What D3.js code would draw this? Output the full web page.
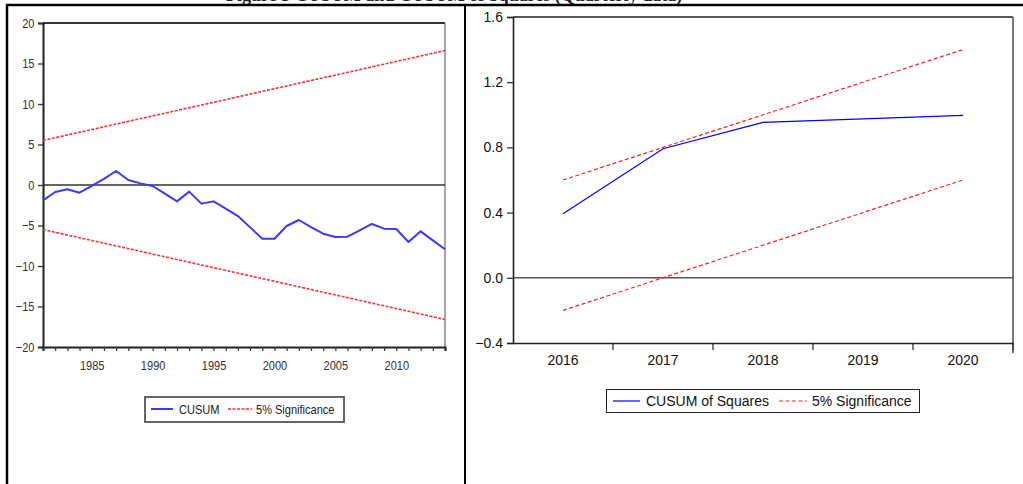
<!DOCTYPE html>
<html>
<head>
<meta charset="utf-8">
<script src="https://cdn.jsdelivr.net/npm/d3@7/dist/d3.min.js"></script>
<style>
  html, body { margin: 0; padding: 0; background: #fff; }
  svg { display: block; }
</style>
</head>
<body>
<svg id="fig" width="1023" height="484"></svg>
<script>
// ---- CUSUM test (left panel) ----
const cusumYears = d3.range(1981, 2015);
const cusumValues = [
  -1.9, -0.86, -0.53, -0.95, -0.1, 0.75, 1.73, 0.62, 0.2, -0.12,
  -1.07, -2.02, -0.82, -2.3, -2.02, -2.92, -3.83, -5.23, -6.63, -6.63,
  -5.06, -4.32, -5.19, -6.01, -6.42, -6.38, -5.6, -4.81, -5.39, -5.43,
  -7.04, -5.72, -6.83, -7.94
];
const cusumBandYears = [1981, 2014];
const cusumUpper = [5.5, 16.6];
const cusumLower = [-5.5, -16.6];
const cusumYTicks = [20, 15, 10, 5, 0, -5, -10, -15, -20];
const cusumXTicks = [1985, 1990, 1995, 2000, 2005, 2010];

// ---- CUSUM of squares test (right panel) ----
const sqYears = ["2016", "2017", "2018", "2019", "2020"];
const sqValues = [0.393, 0.792, 0.953, 0.975, 0.996];
const sqUpper = [0.6, 0.8, 1.0, 1.2, 1.4];
const sqLower = [-0.2, 0.0, 0.2, 0.4, 0.6];
const sqYTicks = [1.6, 1.2, 0.8, 0.4, 0.0, -0.4];

const svg = d3.select("#fig");

// caption line above the table (its upper part runs past the page top)
svg.append("text")
  .attr("x", 226).attr("y", 0.8)
  .attr("font-family", "Liberation Serif, serif")
  .attr("font-weight", "bold")
  .attr("font-size", 18)
  .attr("fill", "#222")
  .text("Figure 3 CUSUM and CUSUM of Squares (Quarterly data)");

// outer table frame
svg.append("line").attr("x1", 6).attr("x2", 1023).attr("y1", 5).attr("y2", 5)
  .attr("stroke", "#000").attr("stroke-width", 2.5);
svg.append("line").attr("x1", 7).attr("x2", 7).attr("y1", 4).attr("y2", 484)
  .attr("stroke", "#000").attr("stroke-width", 2.5);
svg.append("line").attr("x1", 465).attr("x2", 465).attr("y1", 5).attr("y2", 484)
  .attr("stroke", "#000").attr("stroke-width", 2);

// ================= Left panel =================
const L = { left: 43, right: 445, top: 23, bottom: 347 };
const sansL = "Liberation Sans, Arial, sans-serif";
const squeeze = "scale(0.85,1)";   // narrow lettering of this panel

const xL = d3.scaleLinear().domain([1981, 2014]).range([L.left, L.right]);
const yL = d3.scaleLinear().domain([-20, 20]).range([L.bottom, L.top]);

const gL = svg.append("g");

// plot frame: heavy top, light right
gL.append("line").attr("x1", L.left).attr("x2", L.right).attr("y1", L.top).attr("y2", L.top)
  .attr("stroke", "#333").attr("stroke-width", 2.2);
gL.append("line").attr("x1", L.right).attr("x2", L.right).attr("y1", L.top).attr("y2", L.bottom)
  .attr("stroke", "#777").attr("stroke-width", 1.3);

// zero reference line
gL.append("line").attr("x1", L.left).attr("x2", L.right).attr("y1", yL(0)).attr("y2", yL(0))
  .attr("stroke", "#333").attr("stroke-width", 1.6);

// y axis
const axL = gL.append("g").attr("transform", `translate(${L.left},0)`)
  .call(d3.axisLeft(yL).tickValues(cusumYTicks).tickSize(5).tickPadding(5).tickFormat(d3.format("d")));
axL.select(".domain").attr("stroke", "#222").attr("stroke-width", 2);
axL.selectAll(".tick line").attr("stroke", "#333").attr("stroke-width", 1.3);
axL.selectAll(".tick text").attr("font-family", sansL).attr("font-size", 13).attr("fill", "#333")
  .attr("transform", squeeze);

// x axis: yearly ticks, labels every five years
const axB = gL.append("g").attr("transform", `translate(0,${L.bottom})`)
  .call(d3.axisBottom(xL).tickValues(cusumYears).tickSize(4).tickPadding(10)
    .tickFormat(d => cusumXTicks.includes(d) ? String(d) : ""));
axB.select(".domain").attr("stroke", "#222").attr("stroke-width", 2.2);
axB.selectAll(".tick line").attr("stroke", "#333").attr("stroke-width", 1.2);
axB.selectAll(".tick text").attr("font-family", sansL).attr("font-size", 13).attr("fill", "#333")
  .attr("transform", squeeze);

// significance bands
const lineL = d3.line().x(d => xL(d[0])).y(d => yL(d[1]));
[cusumUpper, cusumLower].forEach(b => {
  gL.append("path")
    .datum(cusumBandYears.map((yr, i) => [yr, b[i]]))
    .attr("d", lineL)
    .attr("fill", "none").attr("stroke", "#ff3030").attr("stroke-width", 1.6)
    .attr("stroke-dasharray", "3,1.5");
});

// CUSUM path
gL.append("path")
  .datum(cusumYears.map((yr, i) => [yr, cusumValues[i]]))
  .attr("d", lineL)
  .attr("fill", "none").attr("stroke", "#3a3aff").attr("stroke-width", 2)
  .attr("stroke-linejoin", "round");

// legend
const lgL = gL.append("g");
lgL.append("rect").attr("x", 145).attr("y", 397).attr("width", 199).attr("height", 25)
  .attr("fill", "#fff").attr("stroke", "#555").attr("stroke-width", 1.8);
lgL.append("line").attr("x1", 151).attr("x2", 173).attr("y1", 409).attr("y2", 409)
  .attr("stroke", "#3a3aff").attr("stroke-width", 2);
lgL.append("text").attr("transform", "translate(179,414) " + squeeze)
  .attr("font-family", sansL).attr("font-size", 13).attr("fill", "#222").text("CUSUM");
lgL.append("line").attr("x1", 228).attr("x2", 252).attr("y1", 409).attr("y2", 409)
  .attr("stroke", "#ff3030").attr("stroke-width", 1.6).attr("stroke-dasharray", "3,1.5");
lgL.append("text").attr("transform", "translate(256,414) " + squeeze)
  .attr("font-family", sansL).attr("font-size", 13).attr("fill", "#222").text("5% Significance");

// ================= Right panel =================
const R = { left: 513, right: 1013, top: 17, bottom: 343 };
const sans = "Liberation Sans, Arial, sans-serif";

const xR = d3.scaleBand().domain(sqYears).range([R.left, R.right]).padding(0);
const yR = d3.scaleLinear().domain([-0.4, 1.6]).range([R.bottom, R.top]);
const cx = d => xR(d) + xR.bandwidth() / 2;

const gR = svg.append("g");

// frame (top and right)
gR.append("line").attr("x1", R.left).attr("x2", R.right).attr("y1", R.top).attr("y2", R.top)
  .attr("stroke", "#222").attr("stroke-width", 1.6);
gR.append("line").attr("x1", R.right).attr("x2", R.right).attr("y1", R.top).attr("y2", R.bottom + 10)
  .attr("stroke", "#555").attr("stroke-width", 1.6);

// zero line
gR.append("line").attr("x1", R.left).attr("x2", R.right).attr("y1", yR(0)).attr("y2", yR(0))
  .attr("stroke", "#555").attr("stroke-width", 1.5);

// y axis
const ayR = gR.append("g").attr("transform", `translate(${R.left},0)`)
  .call(d3.axisLeft(yR).tickValues(sqYTicks).tickSize(6).tickPadding(4).tickFormat(d3.format(".1f")));
ayR.select(".domain").attr("stroke", "#222").attr("stroke-width", 1.6);
ayR.selectAll(".tick line").attr("stroke", "#222").attr("stroke-width", 1.2);
ayR.selectAll(".tick text").attr("font-family", sans).attr("font-size", 14).attr("fill", "#111");

// x axis: labels centred in each period, ticks on period boundaries
const axR = gR.append("g").attr("transform", `translate(0,${R.bottom})`)
  .call(d3.axisBottom(xR).tickSize(0).tickPadding(12));
axR.select(".domain").attr("stroke", "#222").attr("stroke-width", 1.6);
axR.selectAll(".tick text").attr("font-family", sans).attr("font-size", 14).attr("fill", "#111");
gR.selectAll("line.bound")
  .data(sqYears.slice(1).map(d => xR(d)).concat([R.right]))
  .join("line").attr("class", "bound")
  .attr("x1", d => d).attr("x2", d => d)
  .attr("y1", R.bottom).attr("y2", R.bottom + 7)
  .attr("stroke", "#222").attr("stroke-width", 1.2);

// bands and statistic
const lineR = d3.line().x(d => cx(d[0])).y(d => yR(d[1]));
[sqUpper, sqLower].forEach(b => {
  gR.append("path")
    .datum(sqYears.map((yr, i) => [yr, b[i]]))
    .attr("d", lineR)
    .attr("fill", "none").attr("stroke", "#ff2020").attr("stroke-width", 1.2)
    .attr("stroke-dasharray", "4,2.5");
});
gR.append("path")
  .datum(sqYears.map((yr, i) => [yr, sqValues[i]]))
  .attr("d", lineR)
  .attr("fill", "none").attr("stroke", "#0000ff").attr("stroke-width", 1.2);

// legend
const lgR = gR.append("g");
lgR.append("rect").attr("x", 606.5).attr("y", 389.5).attr("width", 313).attr("height", 23)
  .attr("fill", "#fff").attr("stroke", "#222").attr("stroke-width", 1);
lgR.append("line").attr("x1", 613).attr("x2", 640).attr("y1", 401).attr("y2", 401)
  .attr("stroke", "#0000ff").attr("stroke-width", 1.2);
lgR.append("text").attr("x", 646).attr("y", 406)
  .attr("font-family", sans).attr("font-size", 14).attr("fill", "#111").text("CUSUM of Squares");
lgR.append("line").attr("x1", 779).attr("x2", 807).attr("y1", 401).attr("y2", 401)
  .attr("stroke", "#ff2020").attr("stroke-width", 1.2).attr("stroke-dasharray", "4,2.5");
lgR.append("text").attr("x", 812).attr("y", 406)
  .attr("font-family", sans).attr("font-size", 14).attr("fill", "#111").text("5% Significance");
</script>
</body>
</html>
